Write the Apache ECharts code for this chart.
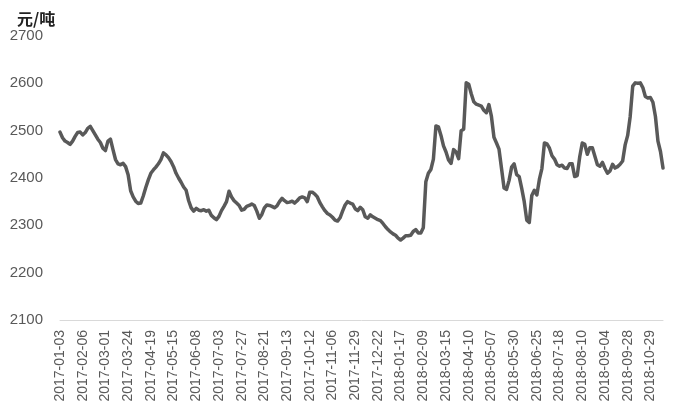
<!DOCTYPE html>
<html><head><meta charset="utf-8">
<script src="https://cdn.jsdelivr.net/npm/echarts@6/dist/echarts.min.js"></script>
<style>html,body{margin:0;padding:0;background:#fff}#c{width:676px;height:415px}</style>
</head><body><div id="c"></div>
<script>
// Tick labels on the category axis (one every 9 samples)
const tickLabels = ["2017-01-03","2017-02-06","2017-03-01","2017-03-24","2017-04-19","2017-05-15","2017-06-08","2017-07-03","2017-07-27","2017-08-21","2017-09-13","2017-10-12","2017-11-06","2017-11-29","2017-12-22","2018-01-17","2018-02-09","2018-03-15","2018-04-10","2018-05-07","2018-05-30","2018-06-25","2018-07-18","2018-08-10","2018-09-04","2018-09-28","2018-10-29"];
const labelStep = 9;
// Price (元/吨)
const prices = [
2497,2485,2478,2475,2471,2478,2488,2496,2497,2491,
2496,2505,2509,2500,2491,2482,2475,2463,2458,2478,
2482,2460,2439,2430,2428,2431,2424,2407,2373,2360,
2351,2346,2347,2362,2380,2396,2410,2417,2423,2430,
2439,2453,2449,2443,2435,2424,2410,2400,2391,2381,
2374,2352,2337,2330,2336,2332,2331,2333,2330,2332,
2321,2316,2312,2319,2331,2340,2350,2372,2360,2352,
2347,2342,2332,2334,2340,2342,2345,2342,2330,2315,
2323,2337,2343,2342,2340,2337,2341,2350,2357,2352,
2348,2349,2351,2347,2352,2358,2360,2358,2350,2370,
2370,2366,2360,2348,2339,2331,2325,2322,2317,2311,
2309,2316,2330,2343,2350,2347,2345,2335,2331,2338,
2333,2318,2315,2322,2318,2315,2312,2310,2304,2297,
2291,2286,2282,2279,2273,2269,2273,2278,2278,2279,
2287,2291,2284,2284,2295,2392,2410,2418,2440,2510,
2508,2490,2468,2455,2438,2431,2460,2455,2441,2500,
2503,2601,2598,2578,2561,2556,2554,2552,2543,2538,
2555,2530,2486,2474,2461,2420,2379,2376,2395,2423,
2430,2407,2403,2378,2350,2311,2306,2363,2374,2364,
2397,2420,2474,2472,2463,2447,2440,2428,2425,2427,
2421,2420,2430,2430,2403,2405,2445,2474,2471,2450,
2464,2464,2446,2428,2425,2433,2420,2410,2415,2429,
2421,2424,2429,2436,2470,2490,2530,2594,2601,2600,
2601,2591,2572,2569,2570,2560,2530,2478,2456,2421];
const unitLabel = "元/吨";
const yMin = 2100, yMax = 2700, yStep = 100;

const categories = prices.map((_, i) =>
  (i % labelStep === 0 && tickLabels[i / labelStep]) ? tickLabels[i / labelStep] : "");

const chart = echarts.init(document.getElementById('c'), null, {renderer: 'canvas'});
chart.setOption({
  animation: false,
  backgroundColor: '#fff',
  title: {
    text: unitLabel, left: 12, top: 6,
    textStyle: {fontFamily: '"Noto Sans CJK SC", sans-serif', fontSize: 16, fontWeight: 'bold', color: '#222'}
  },
  grid: {left: 60, right: 13, top: 36, bottom: 95},
  xAxis: {
    type: 'category', data: categories, boundaryGap: false,
    axisLine: {lineStyle: {color: '#d9d9d9', width: 1}},
    axisTick: {show: false},
    axisLabel: {
      interval: 0, rotate: 90, margin: 10,
      fontFamily: '"Liberation Sans", Arial, sans-serif', fontSize: 14, color: '#595959'
    },
    splitLine: {show: false}
  },
  yAxis: {
    type: 'value', min: yMin, max: yMax, interval: yStep,
    axisLine: {show: false}, axisTick: {show: false}, splitLine: {show: false},
    axisLabel: {margin: 17, formatter: v => String(v),
      fontFamily: '"Liberation Sans", Arial, sans-serif', fontSize: 15, color: '#595959'}
  },
  series: [{
    type: 'line', data: prices, showSymbol: false, symbol: 'none',
    lineStyle: {color: '#595959', width: 3.5, join: 'round', cap: 'round'}
  }]
});
</script></body></html>
